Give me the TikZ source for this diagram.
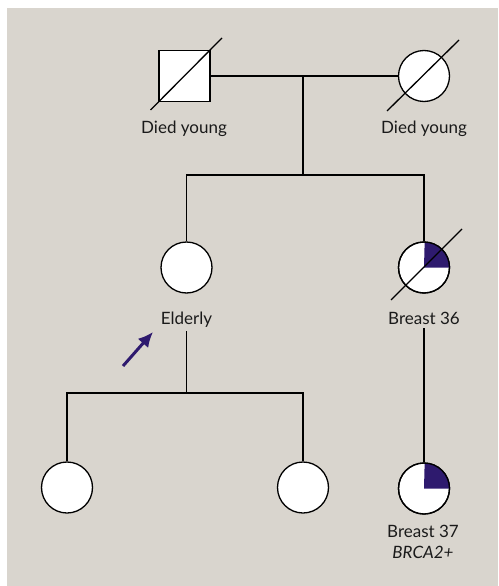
\documentclass[tikz,border=0pt]{standalone}
\usepackage{fontspec}
\setmainfont{Lato}
\usetikzlibrary{arrows.meta,calc}
\definecolor{bg}{HTML}{D9D5CE}
\definecolor{purp}{HTML}{2E1A6E}
\definecolor{ink}{HTML}{1A1A1A}
\begin{document}
\begin{tikzpicture}[x=1pt,y=-1pt,
  female/.style={circle, draw=black, fill=white, minimum size=51pt, inner sep=0pt, line width=1.3pt},
  male/.style={rectangle, draw=black, fill=white, minimum size=51pt, inner sep=0pt, line width=1.3pt},
  lbl/.style={font=\fontsize{17}{20}\selectfont, text=ink, anchor=base, inner sep=4pt},
  conn/.style={draw=black, line width=1.3pt},
  deceased/.style={draw=black, line width=1.3pt},
  affected/.style={fill=purp},
  proband/.style={draw=purp, line width=3pt, -{Latex[length=15pt,width=14pt]}}]
\useasboundingbox (0,0) rectangle (498,586);
\fill[bg] (7,8) rectangle (498,586);

% generation I
\node[male] (f) at (184.5,76) {};
\node[female] (m) at (424,76) {};
\node[lbl] (lf) at (184,133) {Died young};
\node[lbl] (lm) at (424,133) {Died young};

% generation II
\node[female] (e) at (186.5,267.5) {};
\node[female] (b36) at (424,267.5) {};
\node[lbl] (le) at (186.5,324) {Elderly};
\node[lbl] (l36) at (424,324) {Breast 36};

% generation III
\node[female] (c1) at (67,487.5) {};
\node[female] (c2) at (303,487.5) {};
\node[female] (b37) at (424,488.5) {};
\node[lbl] (l37) at (423,537) {Breast 37};
\node[lbl] (lbr) at (423,558) {\itshape BRCA2+};

% affected quarters
\fill[affected] (b36.center) -- (b36.east) arc[start angle=0, end angle=90, radius=25.5pt] -- cycle;
\draw[line width=1.3pt] (b36.center) circle[radius=25.5pt];
\fill[affected] (b37.center) -- (b37.east) arc[start angle=0, end angle=90, radius=25.5pt] -- cycle;
\draw[line width=1.3pt] (b37.center) circle[radius=25.5pt];

% deceased strokes
\draw[deceased] ($(f)+(-34,34)$) -- ($(f)+(37.5,-38)$);
\draw[deceased] ($(m)+(-37,35)$) -- ($(m)+(35,-36)$);
\draw[deceased] ($(b36)+(-33,32.5)$) -- ($(b36)+(38,-38.5)$);

% connectors
\coordinate (mc) at (303,76);
\coordinate (s1) at (303,175);
\coordinate (s2) at (186.5,393);
\draw[conn] (f.east) -- (m.west);
\draw[conn] (mc) -- (s1);
\draw[conn] (e.north) |- (s1) -| (b36.north);
\draw[conn] (le.south) -- (s2);
\draw[conn] (c1.north) |- (s2) -| (c2.north);
\draw[conn] (l36.south) -- (b37.north);

% proband arrow
\coordinate (pa) at (123,366);
\coordinate (pb) at (153,332);
\draw[proband] (pa) -- (pb);
\end{tikzpicture}
\end{document}
